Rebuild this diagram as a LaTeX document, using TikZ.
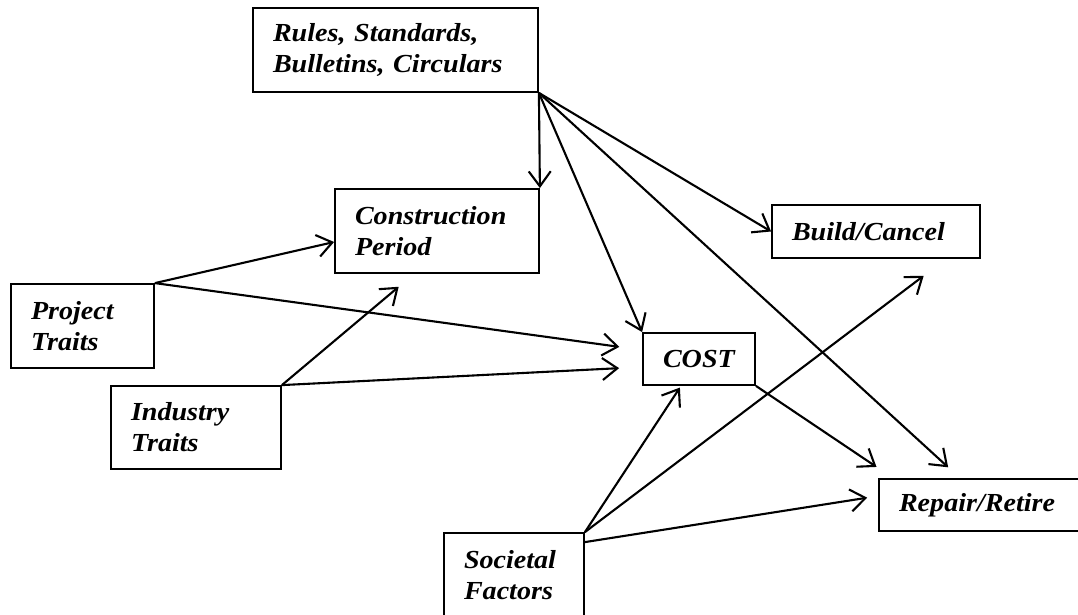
\documentclass[tikz,border=0pt]{standalone}
\usepackage{fontspec}
\setmainfont{Liberation Serif}[FakeStretch=1.08]
\usetikzlibrary{arrows.meta, positioning}

\begin{document}
\begin{tikzpicture}[x=1pt, y=-1pt,
  factor/.style={rectangle, draw, line width=1.8pt, align=left,
                 inner xsep=20pt, inner ysep=0pt,
                 font=\fontsize{26}{31}\selectfont\bfseries\itshape},
  arrow/.style={-{Straight Barb[length=15pt, width=22pt]}, line width=2.1pt},
]
\useasboundingbox (0,0) rectangle (1078,615);

% Factors
\node[factor, text width=245pt, minimum height=84pt] (rules) at (395.5,50) {Rules, Standards,\\Bulletins, Circulars};
\node[factor, text width=164pt, minimum height=84pt] (cons)  at (437,231)   {Construction\\Period};
\node[factor, text width=103pt, minimum height=84pt] (proj)  at (82.5,326)  {Project\\Traits};
\node[factor, text width=130pt, minimum height=83pt] (ind)   at (196,427.5) {Industry\\Traits};
\node[factor, text width=100pt, minimum height=84pt] (soc)   at (514,575)   {Societal\\Factors};

% Outcomes
\node[factor, text width=72pt,  minimum height=52pt] (cost)  at (699,359)   {COST};
\node[factor, text width=168pt, minimum height=53pt] (build) at (876,231.5) {Build/Cancel};
\node[factor, text width=170pt, minimum height=52pt] (rep)   at (984,505)   {Repair/Retire};

% Arrows from rules
\foreach \t in {cons.north east, cost.north west, build.west}
  \draw[arrow] (rules.south east) -- (\t);
\draw[arrow, shorten >=16pt] (rules.south east) -- ([xshift=-24pt]rep.north);

% Arrows from traits
\draw[arrow] (proj.north east) -- ([yshift=-11pt]cons.west);
\draw[arrow, shorten >=23pt] (proj.north east) -- ([yshift=9pt]cost.west);
\draw[arrow, shorten >=20pt] (ind.north east) -- ([xshift=-23pt]cons.south);
\draw[arrow, shorten >=23pt] (ind.north east) -- ([yshift=-8pt]cost.west);

% Arrows to repair and build
\draw[arrow, shorten >=20pt] (cost.south east) -- ([xshift=15pt]rep.north west);
\draw[arrow, shorten >=2pt] (soc.north east) -- ([xshift=-18pt]cost.south);
\draw[arrow, shorten >=28pt] (soc.north east) -- ([xshift=70pt]build.south);
\draw[arrow, shorten >=11pt] ([yshift=-10pt]soc.north east) -- ([yshift=9pt]rep.west);
\end{tikzpicture}
\end{document}
